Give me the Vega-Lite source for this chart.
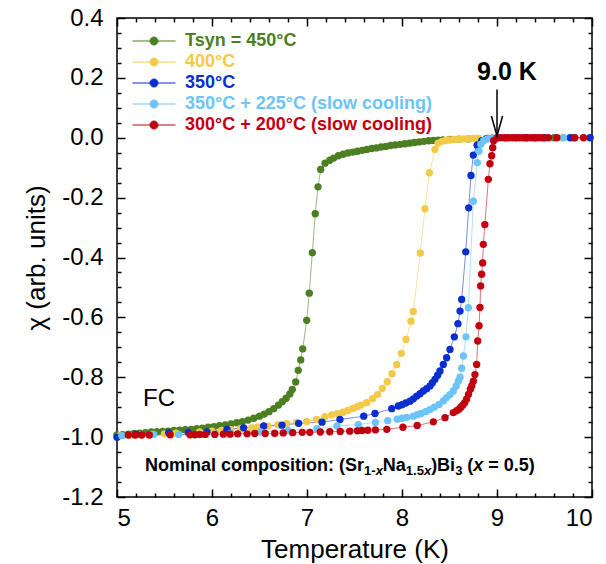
{
  "$schema": "https://vega.github.io/schema/vega-lite/v6.json",
  "width": 475,
  "height": 479,
  "autosize": {"type": "none"},
  "padding": {"left": 117, "top": 18, "right": 14, "bottom": 67},
  "config": {
    "font": "Liberation Sans",
    "view": {"stroke": "#000", "strokeWidth": 1.5},
    "axis": {"domain": false, "grid": false, "tickColor": "#000", "tickWidth": 1.5, "tickOpacity": 1, "labelColor": "#000", "titleColor": "#000", "labelFont": "Liberation Sans", "titleFont": "Liberation Sans"}
  },
  "data": {"values": [{}]},
  "datasets": {
    "chi": [
      {"s":"G","T":5.00,"chi":-0.993},{"s":"G","T":5.06,"chi":-0.992},{"s":"G","T":5.12,"chi":-0.990},{"s":"G","T":5.18,"chi":-0.988},{"s":"G","T":5.24,"chi":-0.987},{"s":"G","T":5.30,"chi":-0.985},{"s":"G","T":5.36,"chi":-0.983},{"s":"G","T":5.42,"chi":-0.982},{"s":"G","T":5.48,"chi":-0.981},{"s":"G","T":5.54,"chi":-0.980},{"s":"G","T":5.60,"chi":-0.978},{"s":"G","T":5.66,"chi":-0.977},{"s":"G","T":5.72,"chi":-0.975},{"s":"G","T":5.78,"chi":-0.974},{"s":"G","T":5.84,"chi":-0.972},{"s":"G","T":5.90,"chi":-0.970},{"s":"G","T":5.96,"chi":-0.967},{"s":"G","T":6.02,"chi":-0.965},{"s":"G","T":6.08,"chi":-0.962},{"s":"G","T":6.14,"chi":-0.959},{"s":"G","T":6.20,"chi":-0.956},{"s":"G","T":6.26,"chi":-0.952},{"s":"G","T":6.32,"chi":-0.948},{"s":"G","T":6.38,"chi":-0.943},{"s":"G","T":6.44,"chi":-0.937},{"s":"G","T":6.50,"chi":-0.930},{"s":"G","T":6.55,"chi":-0.923},{"s":"G","T":6.60,"chi":-0.915},{"s":"G","T":6.65,"chi":-0.905},{"s":"G","T":6.70,"chi":-0.893},{"s":"G","T":6.74,"chi":-0.882},{"s":"G","T":6.78,"chi":-0.870},{"s":"G","T":6.82,"chi":-0.856},{"s":"G","T":6.845,"chi":-0.841},{"s":"G","T":6.881,"chi":-0.816},{"s":"G","T":6.908,"chi":-0.777},{"s":"G","T":6.934,"chi":-0.742},{"s":"G","T":6.955,"chi":-0.705},{"s":"G","T":6.997,"chi":-0.610},{"s":"G","T":7.024,"chi":-0.519},{"s":"G","T":7.056,"chi":-0.384},{"s":"G","T":7.087,"chi":-0.254},{"s":"G","T":7.116,"chi":-0.164},{"s":"G","T":7.144,"chi":-0.106},{"s":"G","T":7.19,"chi":-0.085},{"s":"G","T":7.24,"chi":-0.075},{"s":"G","T":7.28,"chi":-0.068},{"s":"G","T":7.33,"chi":-0.060},{"s":"G","T":7.38,"chi":-0.055},{"s":"G","T":7.43,"chi":-0.051},{"s":"G","T":7.48,"chi":-0.048},{"s":"G","T":7.53,"chi":-0.045},{"s":"G","T":7.58,"chi":-0.042},{"s":"G","T":7.63,"chi":-0.039},{"s":"G","T":7.68,"chi":-0.036},{"s":"G","T":7.73,"chi":-0.034},{"s":"G","T":7.78,"chi":-0.031},{"s":"G","T":7.83,"chi":-0.029},{"s":"G","T":7.88,"chi":-0.026},{"s":"G","T":7.93,"chi":-0.024},{"s":"G","T":7.98,"chi":-0.022},{"s":"G","T":8.03,"chi":-0.020},{"s":"G","T":8.08,"chi":-0.018},{"s":"G","T":8.13,"chi":-0.016},{"s":"G","T":8.18,"chi":-0.014},{"s":"G","T":8.23,"chi":-0.012},{"s":"G","T":8.28,"chi":-0.010},{"s":"G","T":8.33,"chi":-0.009},{"s":"G","T":8.38,"chi":-0.008},{"s":"G","T":8.43,"chi":-0.007},{"s":"G","T":8.50,"chi":-0.006},{"s":"G","T":8.60,"chi":-0.005},{"s":"G","T":8.70,"chi":-0.004},{"s":"G","T":8.80,"chi":-0.003},{"s":"G","T":8.90,"chi":-0.002},{"s":"G","T":9.00,"chi":-0.001},{"s":"G","T":9.20,"chi":0},{"s":"G","T":9.40,"chi":0},{"s":"G","T":9.60,"chi":0},{"s":"G","T":9.80,"chi":0},
      {"s":"Y","T":5.03,"chi":-0.995},{"s":"Y","T":5.13,"chi":-0.994},{"s":"Y","T":5.25,"chi":-0.993},{"s":"Y","T":5.37,"chi":-0.991},{"s":"Y","T":5.50,"chi":-0.989},{"s":"Y","T":5.62,"chi":-0.987},{"s":"Y","T":5.75,"chi":-0.985},{"s":"Y","T":5.87,"chi":-0.983},{"s":"Y","T":6.00,"chi":-0.980},{"s":"Y","T":6.10,"chi":-0.978},{"s":"Y","T":6.20,"chi":-0.975},{"s":"Y","T":6.30,"chi":-0.972},{"s":"Y","T":6.418,"chi":-0.969},{"s":"Y","T":6.484,"chi":-0.966},{"s":"Y","T":6.589,"chi":-0.963},{"s":"Y","T":6.695,"chi":-0.959},{"s":"Y","T":6.786,"chi":-0.955},{"s":"Y","T":6.892,"chi":-0.951},{"s":"Y","T":6.997,"chi":-0.948},{"s":"Y","T":7.102,"chi":-0.941},{"s":"Y","T":7.189,"chi":-0.932},{"s":"Y","T":7.26,"chi":-0.926},{"s":"Y","T":7.32,"chi":-0.922},{"s":"Y","T":7.379,"chi":-0.917},{"s":"Y","T":7.43,"chi":-0.911},{"s":"Y","T":7.484,"chi":-0.904},{"s":"Y","T":7.53,"chi":-0.898},{"s":"Y","T":7.568,"chi":-0.893},{"s":"Y","T":7.628,"chi":-0.885},{"s":"Y","T":7.692,"chi":-0.871},{"s":"Y","T":7.744,"chi":-0.857},{"s":"Y","T":7.793,"chi":-0.837},{"s":"Y","T":7.845,"chi":-0.815},{"s":"Y","T":7.895,"chi":-0.788},{"s":"Y","T":7.944,"chi":-0.758},{"s":"Y","T":7.993,"chi":-0.720},{"s":"Y","T":8.042,"chi":-0.674},{"s":"Y","T":8.095,"chi":-0.613},{"s":"Y","T":8.119,"chi":-0.580},{"s":"Y","T":8.193,"chi":-0.385},{"s":"Y","T":8.242,"chi":-0.237},{"s":"Y","T":8.288,"chi":-0.117},{"s":"Y","T":8.347,"chi":-0.039},{"s":"Y","T":8.38,"chi":-0.018},{"s":"Y","T":8.42,"chi":-0.012},{"s":"Y","T":8.46,"chi":-0.009},{"s":"Y","T":8.50,"chi":-0.007},{"s":"Y","T":8.55,"chi":-0.006},{"s":"Y","T":8.60,"chi":-0.005},{"s":"Y","T":8.65,"chi":-0.004},{"s":"Y","T":8.70,"chi":-0.003},{"s":"Y","T":8.75,"chi":-0.002},{"s":"Y","T":8.80,"chi":-0.001},{"s":"Y","T":8.90,"chi":-0.001},{"s":"Y","T":9.10,"chi":0},{"s":"Y","T":9.30,"chi":0},{"s":"Y","T":9.50,"chi":0},{"s":"Y","T":9.68,"chi":0},
      {"s":"B","T":5.00,"chi":-1.0},{"s":"B","T":5.20,"chi":-0.99},{"s":"B","T":5.544,"chi":-0.985},{"s":"B","T":5.75,"chi":-0.984},{"s":"B","T":5.947,"chi":-0.983},{"s":"B","T":6.158,"chi":-0.974},{"s":"B","T":6.333,"chi":-0.969},{"s":"B","T":6.544,"chi":-0.963},{"s":"B","T":6.737,"chi":-0.960},{"s":"B","T":6.912,"chi":-0.954},{"s":"B","T":7.158,"chi":-0.950},{"s":"B","T":7.347,"chi":-0.941},{"s":"B","T":7.597,"chi":-0.930},{"s":"B","T":7.716,"chi":-0.921},{"s":"B","T":7.892,"chi":-0.905},{"s":"B","T":7.961,"chi":-0.896},{"s":"B","T":8.00,"chi":-0.892},{"s":"B","T":8.04,"chi":-0.886},{"s":"B","T":8.084,"chi":-0.880},{"s":"B","T":8.12,"chi":-0.872},{"s":"B","T":8.155,"chi":-0.863},{"s":"B","T":8.19,"chi":-0.855},{"s":"B","T":8.225,"chi":-0.846},{"s":"B","T":8.26,"chi":-0.838},{"s":"B","T":8.295,"chi":-0.829},{"s":"B","T":8.32,"chi":-0.818},{"s":"B","T":8.347,"chi":-0.807},{"s":"B","T":8.375,"chi":-0.793},{"s":"B","T":8.40,"chi":-0.779},{"s":"B","T":8.435,"chi":-0.757},{"s":"B","T":8.47,"chi":-0.735},{"s":"B","T":8.505,"chi":-0.707},{"s":"B","T":8.551,"chi":-0.665},{"s":"B","T":8.589,"chi":-0.621},{"s":"B","T":8.611,"chi":-0.579},{"s":"B","T":8.628,"chi":-0.540},{"s":"B","T":8.671,"chi":-0.381},{"s":"B","T":8.702,"chi":-0.234},{"s":"B","T":8.726,"chi":-0.126},{"s":"B","T":8.751,"chi":-0.058},{"s":"B","T":8.79,"chi":-0.025},{"s":"B","T":8.84,"chi":-0.010},{"s":"B","T":8.89,"chi":-0.003},{"s":"B","T":8.95,"chi":-0.001},{"s":"B","T":9.10,"chi":0},{"s":"B","T":9.30,"chi":0},{"s":"B","T":9.50,"chi":0},{"s":"B","T":9.77,"chi":0},{"s":"B","T":9.98,"chi":0},
      {"s":"L","T":5.05,"chi":-0.995},{"s":"L","T":5.386,"chi":-0.991},{"s":"L","T":5.65,"chi":-0.991},{"s":"L","T":5.912,"chi":-0.991},{"s":"L","T":6.20,"chi":-0.987},{"s":"L","T":6.51,"chi":-0.983},{"s":"L","T":6.80,"chi":-0.978},{"s":"L","T":7.105,"chi":-0.972},{"s":"L","T":7.316,"chi":-0.963},{"s":"L","T":7.54,"chi":-0.958},{"s":"L","T":7.72,"chi":-0.951},{"s":"L","T":7.85,"chi":-0.945},{"s":"L","T":7.95,"chi":-0.940},{"s":"L","T":8.00,"chi":-0.937},{"s":"L","T":8.05,"chi":-0.934},{"s":"L","T":8.119,"chi":-0.930},{"s":"L","T":8.16,"chi":-0.925},{"s":"L","T":8.20,"chi":-0.921},{"s":"L","T":8.25,"chi":-0.915},{"s":"L","T":8.295,"chi":-0.908},{"s":"L","T":8.34,"chi":-0.900},{"s":"L","T":8.39,"chi":-0.891},{"s":"L","T":8.435,"chi":-0.879},{"s":"L","T":8.47,"chi":-0.868},{"s":"L","T":8.505,"chi":-0.858},{"s":"L","T":8.54,"chi":-0.846},{"s":"L","T":8.57,"chi":-0.830},{"s":"L","T":8.593,"chi":-0.813},{"s":"L","T":8.611,"chi":-0.800},{"s":"L","T":8.628,"chi":-0.770},{"s":"L","T":8.646,"chi":-0.729},{"s":"L","T":8.674,"chi":-0.665},{"s":"L","T":8.698,"chi":-0.568},{"s":"L","T":8.751,"chi":-0.212},{"s":"L","T":8.793,"chi":-0.083},{"s":"L","T":8.81,"chi":-0.045},{"s":"L","T":8.83,"chi":-0.022},{"s":"L","T":8.86,"chi":-0.010},{"s":"L","T":8.90,"chi":-0.004},{"s":"L","T":8.95,"chi":-0.001},{"s":"L","T":9.10,"chi":0},{"s":"L","T":9.40,"chi":0},{"s":"L","T":9.70,"chi":0},
      {"s":"R","T":5.12,"chi":-0.993},{"s":"R","T":5.19,"chi":-0.993},{"s":"R","T":5.26,"chi":-0.993},{"s":"R","T":5.34,"chi":-0.993},{"s":"R","T":5.56,"chi":-0.992},{"s":"R","T":5.77,"chi":-0.992},{"s":"R","T":5.82,"chi":-0.992},{"s":"R","T":5.87,"chi":-0.991},{"s":"R","T":5.93,"chi":-0.991},{"s":"R","T":6.03,"chi":-0.991},{"s":"R","T":6.12,"chi":-0.990},{"s":"R","T":6.19,"chi":-0.990},{"s":"R","T":6.27,"chi":-0.989},{"s":"R","T":6.37,"chi":-0.989},{"s":"R","T":6.45,"chi":-0.988},{"s":"R","T":6.56,"chi":-0.988},{"s":"R","T":6.66,"chi":-0.987},{"s":"R","T":6.75,"chi":-0.986},{"s":"R","T":6.85,"chi":-0.985},{"s":"R","T":6.95,"chi":-0.984},{"s":"R","T":7.03,"chi":-0.984},{"s":"R","T":7.14,"chi":-0.983},{"s":"R","T":7.24,"chi":-0.982},{"s":"R","T":7.35,"chi":-0.981},{"s":"R","T":7.45,"chi":-0.980},{"s":"R","T":7.53,"chi":-0.979},{"s":"R","T":7.58,"chi":-0.978},{"s":"R","T":7.64,"chi":-0.977},{"s":"R","T":7.72,"chi":-0.976},{"s":"R","T":7.84,"chi":-0.974},{"s":"R","T":8.01,"chi":-0.967},{"s":"R","T":8.16,"chi":-0.961},{"s":"R","T":8.33,"chi":-0.949},{"s":"R","T":8.453,"chi":-0.935},{"s":"R","T":8.54,"chi":-0.918},{"s":"R","T":8.575,"chi":-0.912},{"s":"R","T":8.60,"chi":-0.907},{"s":"R","T":8.62,"chi":-0.900},{"s":"R","T":8.64,"chi":-0.893},{"s":"R","T":8.66,"chi":-0.885},{"s":"R","T":8.68,"chi":-0.873},{"s":"R","T":8.70,"chi":-0.857},{"s":"R","T":8.72,"chi":-0.840},{"s":"R","T":8.735,"chi":-0.828},{"s":"R","T":8.751,"chi":-0.813},{"s":"R","T":8.768,"chi":-0.791},{"s":"R","T":8.786,"chi":-0.757},{"s":"R","T":8.797,"chi":-0.679},{"s":"R","T":8.811,"chi":-0.628},{"s":"R","T":8.821,"chi":-0.567},{"s":"R","T":8.828,"chi":-0.495},{"s":"R","T":8.838,"chi":-0.456},{"s":"R","T":8.849,"chi":-0.418},{"s":"R","T":8.856,"chi":-0.356},{"s":"R","T":8.872,"chi":-0.290},{"s":"R","T":8.909,"chi":-0.139},{"s":"R","T":8.926,"chi":-0.087},{"s":"R","T":8.944,"chi":-0.060},{"s":"R","T":8.955,"chi":-0.033},{"s":"R","T":8.965,"chi":-0.010},{"s":"R","T":9.00,"chi":0},{"s":"R","T":9.04,"chi":0},{"s":"R","T":9.08,"chi":0},{"s":"R","T":9.12,"chi":0},{"s":"R","T":9.16,"chi":0},{"s":"R","T":9.20,"chi":0},{"s":"R","T":9.24,"chi":0},{"s":"R","T":9.28,"chi":0},{"s":"R","T":9.32,"chi":0},{"s":"R","T":9.36,"chi":0},{"s":"R","T":9.40,"chi":0},{"s":"R","T":9.44,"chi":0},{"s":"R","T":9.48,"chi":0},{"s":"R","T":9.54,"chi":0},{"s":"R","T":9.63,"chi":0},{"s":"R","T":9.82,"chi":0},{"s":"R","T":9.91,"chi":0}
    ]
  },
  "layer": [
    {
      "data": {"name": "chi"},
      "mark": {"type": "line", "strokeWidth": 1, "strokeOpacity": 0.55},
      "encoding": {
        "x": {"field": "T", "type": "quantitative", "scale": {"domain": [5, 10], "nice": false, "zero": false},
          "axis": {"orient": "bottom", "values": [5, 6, 7, 8, 9, 10], "format": "d", "ticks": false, "labelFontSize": 24, "labelPadding": 9,
            "title": "Temperature (K)", "titleFontSize": 26, "titleFontWeight": "normal", "titlePadding": 6}},
        "y": {"field": "chi", "type": "quantitative", "scale": {"domain": [-1.2, 0.4], "nice": false, "zero": false},
          "axis": {"orient": "left", "values": [-1.2, -1.0, -0.8, -0.6, -0.4, -0.2, 0, 0.2, 0.4], "ticks": false, "labelFontSize": 24, "labelPadding": 14, "format": ".1f", "labelExpr": "replace(datum.label, '−', '-')",
            "title": "χ (arb. units)", "titleFontSize": 26, "titleFontWeight": "normal", "titlePadding": 12}},
        "stroke": {"field": "s", "type": "nominal", "scale": {"domain": ["G", "Y", "B", "L", "R"], "range": ["#4b7f22", "#f3ca48", "#0a2fd0", "#6cc4f8", "#c1000f"]}}
      }
    },
    {
      "data": {"name": "chi"},
      "mark": {"type": "point", "filled": true, "size": 54, "opacity": 1},
      "encoding": {
        "x": {"field": "T", "type": "quantitative", "scale": {"domain": [5, 10], "nice": false, "zero": false},
          "axis": {"orient": "bottom", "values": [5, 6, 7, 8, 9, 10], "labels": false, "ticks": true, "tickSize": -8, "title": null}},
        "y": {"field": "chi", "type": "quantitative", "scale": {"domain": [-1.2, 0.4], "nice": false, "zero": false},
          "axis": {"orient": "left", "values": [-1.2, -1.0, -0.8, -0.6, -0.4, -0.2, 0, 0.2, 0.4], "labels": false, "ticks": true, "tickSize": -8, "title": null}},
        "color": {"field": "s", "type": "nominal", "scale": {"domain": ["G", "Y", "B", "L", "R"], "range": ["#4b7f22", "#f3ca48", "#0a2fd0", "#6cc4f8", "#c1000f"]},
          "legend": {
            "orient": "none", "legendX": 28, "legendY": 14, "title": null, "padding": 0,
            "symbolType": "M-2.69,0L2.69,0M0.5,0A0.5,0.5,0,1,1,-0.5,0A0.5,0.5,0,1,1,0.5,0Z",
            "symbolSize": 256, "symbolStrokeWidth": 1, "symbolOffset": 0, "symbolOpacity": 1,
            "symbolStrokeColor": {"expr": "scale('color', datum.value)"},
            "labelColor": {"expr": "scale('color', datum.value)"},
            "labelFontSize": 18, "labelFontWeight": "bold", "labelFont": "Liberation Sans", "labelOffset": 22, "labelLimit": 400, "rowPadding": 3,
            "labelExpr": "datum.label == 'G' ? 'Tsyn = 450°C' : datum.label == 'Y' ? '400°C' : datum.label == 'B' ? '350°C' : datum.label == 'L' ? '350°C + 225°C (slow cooling)' : '300°C + 200°C (slow cooling)'"
          }}
      }
    },
    {
      "mark": {"type": "text", "text": "FC", "fontSize": 24, "align": "left", "baseline": "alphabetic", "color": "#000"},
      "encoding": {
        "x": {"datum": 5.274, "type": "quantitative", "scale": {"domain": [5, 10], "nice": false, "zero": false},
          "axis": {"orient": "top", "values": [5, 6, 7, 8, 9, 10], "labels": false, "ticks": true, "tickSize": -8, "title": null}},
        "y": {"datum": -0.895, "type": "quantitative", "scale": {"domain": [-1.2, 0.4], "nice": false, "zero": false},
          "axis": {"orient": "right", "values": [-1.2, -1.0, -0.8, -0.6, -0.4, -0.2, 0, 0.2, 0.4], "labels": false, "ticks": true, "tickSize": -8, "title": null}}
      }
    },
    {
      "mark": {"type": "text", "text": "9.0 K", "fontSize": 25, "fontWeight": "bold", "align": "center", "baseline": "alphabetic", "color": "#000"},
      "encoding": {
        "x": {"datum": 9.105, "type": "quantitative", "scale": {"domain": [5, 10], "nice": false, "zero": false},
          "axis": {"orient": "bottom", "values": [5.2, 5.4, 5.6, 5.8, 6.2, 6.4, 6.6, 6.8, 7.2, 7.4, 7.6, 7.8, 8.2, 8.4, 8.6, 8.8, 9.2, 9.4, 9.6, 9.8], "labels": false, "ticks": true, "tickSize": -4, "title": null}},
        "y": {"datum": 0.193, "type": "quantitative", "scale": {"domain": [-1.2, 0.4], "nice": false, "zero": false},
          "axis": {"orient": "left", "values": [-1.15, -1.1, -1.05, -0.95, -0.9, -0.85, -0.75, -0.7, -0.65, -0.55, -0.5, -0.45, -0.35, -0.3, -0.25, -0.15, -0.1, -0.05, 0.05, 0.1, 0.15, 0.25, 0.3, 0.35], "labels": false, "ticks": true, "tickSize": -4, "title": null}}
      }
    },
    {
      "mark": {"type": "rule", "strokeWidth": 1.5, "color": "#000"},
      "encoding": {
        "x": {"datum": 9.0, "type": "quantitative", "scale": {"domain": [5, 10], "nice": false, "zero": false},
          "axis": {"orient": "top", "values": [5.2, 5.4, 5.6, 5.8, 6.2, 6.4, 6.6, 6.8, 7.2, 7.4, 7.6, 7.8, 8.2, 8.4, 8.6, 8.8, 9.2, 9.4, 9.6, 9.8], "labels": false, "ticks": true, "tickSize": -4, "title": null}},
        "y": {"datum": 0.161, "type": "quantitative", "scale": {"domain": [-1.2, 0.4], "nice": false, "zero": false},
          "axis": {"orient": "right", "values": [-1.15, -1.1, -1.05, -0.95, -0.9, -0.85, -0.75, -0.7, -0.65, -0.55, -0.5, -0.45, -0.35, -0.3, -0.25, -0.15, -0.1, -0.05, 0.05, 0.1, 0.15, 0.25, 0.3, 0.35], "labels": false, "ticks": true, "tickSize": -4, "title": null}},
        "y2": {"datum": 0.006}
      }
    },
    {
      "mark": {"type": "point", "shape": "M-0.28,-1L0,0L0.28,-1", "size": 1600, "filled": false, "stroke": "#000", "strokeWidth": 1.5, "opacity": 1},
      "encoding": {"x": {"datum": 9.0, "type": "quantitative", "axis": null}, "y": {"datum": 0.006, "type": "quantitative", "axis": null}}
    },
    {
      "mark": {"type": "text", "text": "Nominal composition: (Sr", "fontSize": 18, "fontWeight": "bold", "align": "left", "baseline": "alphabetic", "color": "#000", "dx": 0},
      "encoding": {"x": {"datum": 5.295, "type": "quantitative", "axis": null}, "y": {"datum": -1.112, "type": "quantitative", "axis": null}}
    },
    {
      "mark": {"type": "text", "text": "1-", "fontSize": 13, "fontWeight": "bold", "align": "left", "baseline": "alphabetic", "color": "#000", "dx": 219.0, "dy": 4},
      "encoding": {"x": {"datum": 5.295, "type": "quantitative", "axis": null}, "y": {"datum": -1.112, "type": "quantitative", "axis": null}}
    },
    {
      "mark": {"type": "text", "text": "x", "fontSize": 13, "fontWeight": "bold", "fontStyle": "italic", "align": "left", "baseline": "alphabetic", "color": "#000", "dx": 230.6, "dy": 4},
      "encoding": {"x": {"datum": 5.295, "type": "quantitative", "axis": null}, "y": {"datum": -1.112, "type": "quantitative", "axis": null}}
    },
    {
      "mark": {"type": "text", "text": "Na", "fontSize": 18, "fontWeight": "bold", "align": "left", "baseline": "alphabetic", "color": "#000", "dx": 237.8},
      "encoding": {"x": {"datum": 5.295, "type": "quantitative", "axis": null}, "y": {"datum": -1.112, "type": "quantitative", "axis": null}}
    },
    {
      "mark": {"type": "text", "text": "1.5", "fontSize": 13, "fontWeight": "bold", "align": "left", "baseline": "alphabetic", "color": "#000", "dx": 260.8, "dy": 4},
      "encoding": {"x": {"datum": 5.295, "type": "quantitative", "axis": null}, "y": {"datum": -1.112, "type": "quantitative", "axis": null}}
    },
    {
      "mark": {"type": "text", "text": "x", "fontSize": 13, "fontWeight": "bold", "fontStyle": "italic", "align": "left", "baseline": "alphabetic", "color": "#000", "dx": 278.9, "dy": 4},
      "encoding": {"x": {"datum": 5.295, "type": "quantitative", "axis": null}, "y": {"datum": -1.112, "type": "quantitative", "axis": null}}
    },
    {
      "mark": {"type": "text", "text": ")Bi", "fontSize": 18, "fontWeight": "bold", "align": "left", "baseline": "alphabetic", "color": "#000", "dx": 286.1},
      "encoding": {"x": {"datum": 5.295, "type": "quantitative", "axis": null}, "y": {"datum": -1.112, "type": "quantitative", "axis": null}}
    },
    {
      "mark": {"type": "text", "text": "3", "fontSize": 13, "fontWeight": "bold", "align": "left", "baseline": "alphabetic", "color": "#000", "dx": 310.1, "dy": 4},
      "encoding": {"x": {"datum": 5.295, "type": "quantitative", "axis": null}, "y": {"datum": -1.112, "type": "quantitative", "axis": null}}
    },
    {
      "mark": {"type": "text", "text": "(", "fontSize": 18, "fontWeight": "bold", "align": "left", "baseline": "alphabetic", "color": "#000", "dx": 322.3},
      "encoding": {"x": {"datum": 5.295, "type": "quantitative", "axis": null}, "y": {"datum": -1.112, "type": "quantitative", "axis": null}}
    },
    {
      "mark": {"type": "text", "text": "x", "fontSize": 18, "fontWeight": "bold", "fontStyle": "italic", "align": "left", "baseline": "alphabetic", "color": "#000", "dx": 328.3},
      "encoding": {"x": {"datum": 5.295, "type": "quantitative", "axis": null}, "y": {"datum": -1.112, "type": "quantitative", "axis": null}}
    },
    {
      "mark": {"type": "text", "text": "= 0.5)", "fontSize": 18, "fontWeight": "bold", "align": "left", "baseline": "alphabetic", "color": "#000", "dx": 343.3},
      "encoding": {"x": {"datum": 5.295, "type": "quantitative", "axis": null}, "y": {"datum": -1.112, "type": "quantitative", "axis": null}}
    }
  ],
  "resolve": {"axis": {"x": "independent", "y": "independent"}}
}
